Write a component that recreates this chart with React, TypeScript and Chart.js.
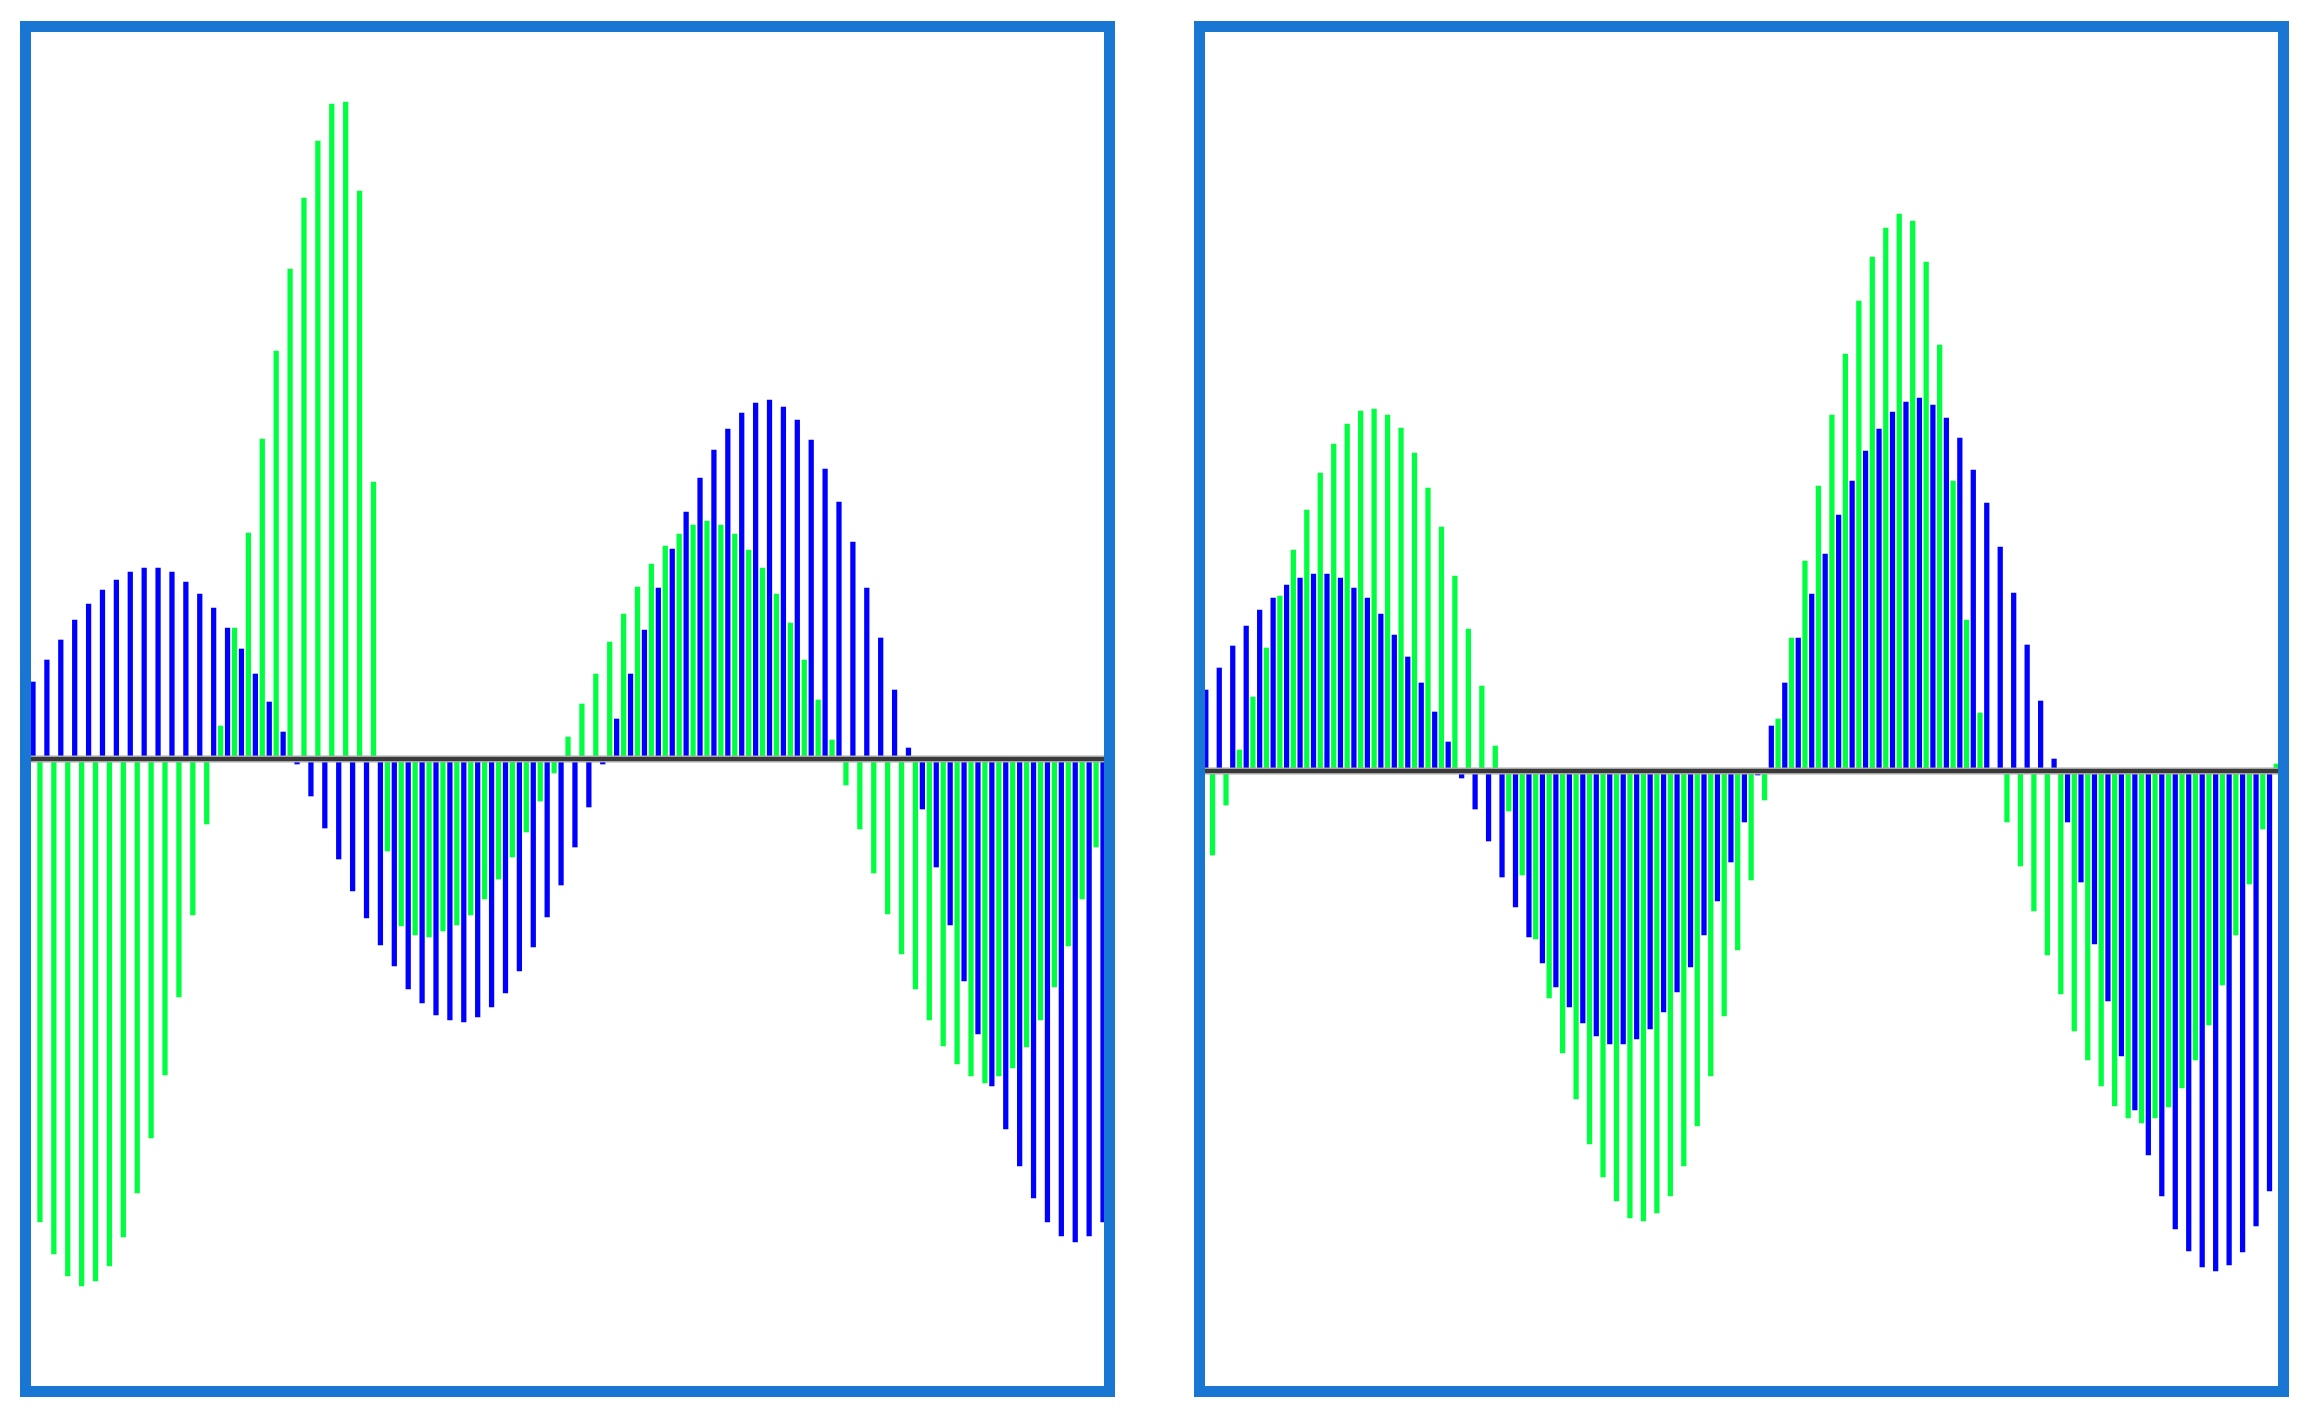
import React, { useEffect, useRef } from "react";
import { Chart, registerables } from "chart.js";

Chart.register(...registerables);

// Left panel – blue series (78 samples) and green series (77 samples, taken half-way between)
const leftBlue = [
  77, 99, 119, 139, 155, 169, 179, 187, 191, 191, 187, 177, 165, 151, 131, 110, 85, 57, 27, -5,
  -37, -69, -100, -132, -159, -186, -207, -230, -244, -256, -261, -263, -258, -248, -234, -212, -188, -158, -126, -88,
  -48, -5, 40, 85, 129, 171, 210, 247, 281, 309, 330, 346, 356, 359, 352, 339, 319, 290, 257, 217,
  171, 121, 69, 11, -50, -108, -166, -222, -275, -327, -370, -407, -439, -463, -477, -483, -477, -463,
];
const leftGreen = [
  -463, -495, -517, -527, -522, -507, -478, -434, -379, -316, -238, -156, -65, 33, 131, 226, 320, 408, 490, 561,
  618, 655, 657, 568, 277, -92, -167, -176, -178, -172, -166, -156, -140, -120, -98, -73, -42, -14, 22, 55,
  85, 117, 145, 172, 195, 213, 225, 234, 238, 234, 225, 209, 191, 165, 136, 99, 59, 19, -26, -70,
  -114, -155, -195, -230, -261, -287, -305, -317, -324, -317, -309, -288, -261, -228, -187, -140, -88,
];

// Right panel – blue series (80 samples) and green series (80 samples)
const rightBlue = [
  81, 103, 125, 145, 161, 173, 186, 193, 197, 197, 193, 183, 173, 157, 136, 114, 88, 59, 29, -7,
  -38, -70, -106, -136, -166, -192, -216, -236, -252, -265, -273, -273, -268, -258, -241, -221, -196, -164, -130, -91,
  -51, -4, 45, 88, 133, 177, 217, 256, 290, 320, 342, 359, 369, 373, 366, 353, 333, 301, 268, 224,
  178, 126, 70, 12, -51, -111, -173, -230, -285, -339, -384, -425, -458, -480, -496, -500, -494, -481, -455, -420,
];
const rightGreen = [
  -84, -34, 21, 74, 123, 175, 221, 261, 298, 327, 347, 360, 362, 356, 343, 318, 283, 244, 195, 142,
  85, 25, -40, -104, -168, -227, -282, -328, -373, -406, -430, -447, -450, -442, -425, -395, -355, -305, -245, -179,
  -109, -29, 52, 133, 210, 285, 356, 417, 470, 514, 543, 557, 550, 509, 426, 290, 151, 58, 0, -51,
  -95, -140, -184, -223, -260, -289, -315, -335, -347, -352, -347, -336, -317, -289, -254, -214, -164, -113, -58, 7,
];

// green samples sit half a step after the blue samples
const greenSampleOffset = 0.5;

const BLUE = "#0000ff";
const GREEN = "#00ff40";
const FRAME = "#1976d2";

const zeroLinePlugin = {
  id: "zeroLine",
  afterDatasetsDraw(chart: any) {
    const { ctx, chartArea, scales } = chart;
    const y = scales.y.getPixelForValue(0);
    const w = chartArea.right - chartArea.left;
    ctx.save();
    ctx.fillStyle = "#a8a8a8";
    ctx.fillRect(chartArea.left, y - 3.5, w, 7);
    ctx.fillStyle = "#3a3a3a";
    ctx.fillRect(chartArea.left, y - 2, w, 4);
    ctx.restore();
  },
};

type PanelProps = {
  blue: number[];
  green: number[];
  xMin: number;
  xMax: number;
  yMin: number;
  yMax: number;
  left: number;
};

const PANEL_TOP = 21;
const PANEL_W = 1095;
const PANEL_H = 1376;
const BORDER = 11;

function Panel({ blue, green, xMin, xMax, yMin, yMax, left }: PanelProps) {
  const ref = useRef<HTMLCanvasElement>(null);
  const cw = PANEL_W - 2 * BORDER;
  const ch = PANEL_H - 2 * BORDER;

  useEffect(() => {
    if (!ref.current) return;
    const chart = new Chart(ref.current, {
      type: "bar",
      data: {
        datasets: [
          {
            label: "blue",
            data: blue.map((y, i) => ({ x: i, y })),
            backgroundColor: BLUE,
            borderWidth: 0,
            barThickness: 4.6,
            grouped: false,
          } as any,
          {
            label: "green",
            data: green.map((y, i) => ({ x: i + greenSampleOffset, y })),
            backgroundColor: GREEN,
            borderWidth: 0,
            barThickness: 4.6,
            grouped: false,
          } as any,
        ],
      },
      options: {
        responsive: false,
        maintainAspectRatio: false,
        animation: false,
        devicePixelRatio: 1,
        events: [],
        layout: { padding: 0 },
        plugins: {
          legend: { display: false },
          tooltip: { enabled: false },
          title: { display: false },
        },
        scales: {
          x: { type: "linear", min: xMin, max: xMax, display: false, offset: false },
          y: { type: "linear", min: yMin, max: yMax, display: false },
        },
      } as any,
      plugins: [zeroLinePlugin],
    });
    return () => chart.destroy();
  }, []);

  return (
    <div
      style={{
        position: "absolute",
        left,
        top: PANEL_TOP,
        width: PANEL_W,
        height: PANEL_H,
        border: `${BORDER}px solid ${FRAME}`,
        boxSizing: "border-box",
        background: "#ffffff",
      }}
    >
      <canvas
        ref={ref}
        width={cw}
        height={ch}
        style={{ display: "block", width: cw, height: ch }}
      />
    </div>
  );
}

export default function App() {
  return (
    <div
      style={{
        position: "absolute",
        left: 0,
        top: 0,
        width: 2313,
        height: 1419,
        background: "#ffffff",
        overflow: "hidden",
      }}
    >
      <Panel blue={leftBlue} green={leftGreen} xMin={-0.144} xMax={77.07} yMin={-627} yMax={727} left={20} />
      <Panel blue={rightBlue} green={rightGreen} xMin={-0.06} xMax={79.63} yMin={-615} yMax={739} left={1194} />
    </div>
  );
}
